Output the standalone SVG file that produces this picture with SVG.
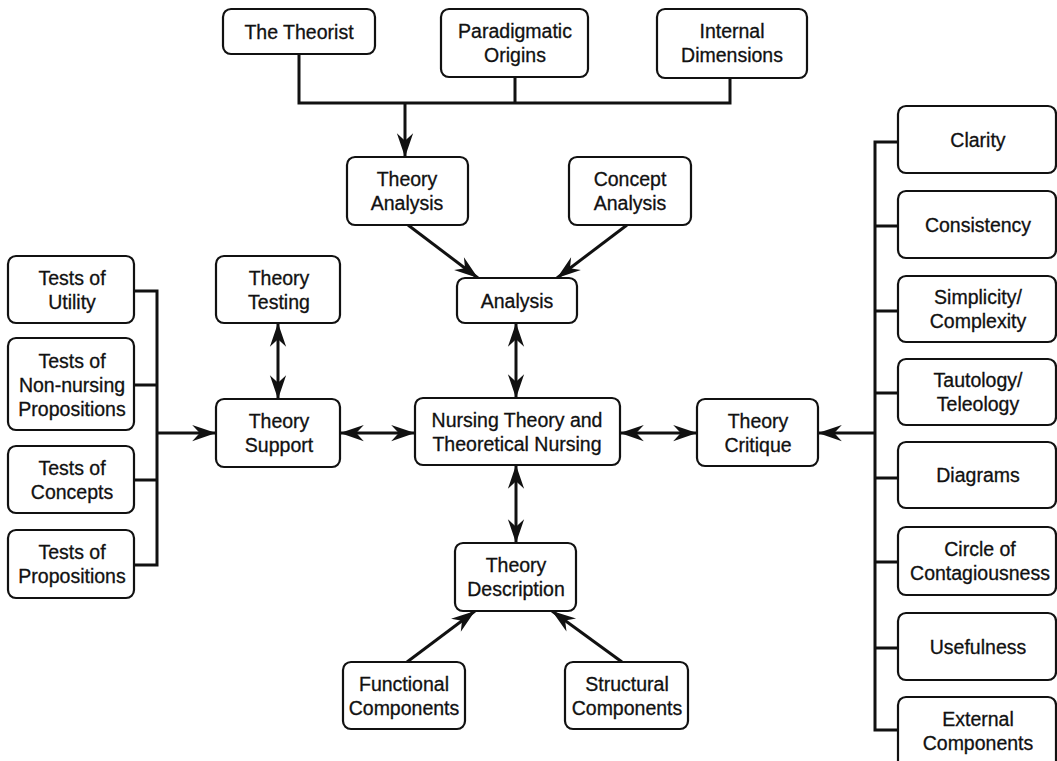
<svg xmlns="http://www.w3.org/2000/svg" width="1057" height="761" viewBox="0 0 1057 761">
<style>
.box{fill:#fff;stroke:#111;stroke-width:2.2}
text{font-family:"Liberation Sans",Arial,sans-serif;font-size:19.5px;fill:#111;stroke:#111;stroke-width:0.3;text-anchor:middle}
.ln{fill:none;stroke:#111;stroke-width:3;stroke-linejoin:miter}
</style>
<defs>
<marker id="ah" markerUnits="userSpaceOnUse" markerWidth="26" markerHeight="18" viewBox="-23 -8 24 16" refX="0" refY="0" orient="auto-start-reverse">
<path d="M0,0 L-22,-7.5 L-15,0 L-22,7.5 Z" fill="#111"/>
</marker>
</defs>
<rect width="1057" height="761" fill="#fff"/>
<g id="connectors">
<path class="ln" d="M299,54 V103 H730 V78 M515,77 V103"/>
<path class="ln" d="M405,103 V157" marker-end="url(#ah)"/>
<path class="ln" d="M408,225 L478,278" marker-end="url(#ah)"/>
<path class="ln" d="M627,225 L557,278" marker-end="url(#ah)"/>
<path class="ln" d="M516,323 V398" marker-start="url(#ah)" marker-end="url(#ah)"/>
<path class="ln" d="M278,323 V399" marker-start="url(#ah)" marker-end="url(#ah)"/>
<path class="ln" d="M340,433 H415" marker-start="url(#ah)" marker-end="url(#ah)"/>
<path class="ln" d="M620,433 H697" marker-start="url(#ah)" marker-end="url(#ah)"/>
<path class="ln" d="M516,465 V543" marker-start="url(#ah)" marker-end="url(#ah)"/>
<path class="ln" d="M407,662 L475,611" marker-end="url(#ah)"/>
<path class="ln" d="M622,662 L552,611" marker-end="url(#ah)"/>
<path class="ln" d="M134,291 H157 V565 H134 M134,385 H157 M134,480 H157"/>
<path class="ln" d="M157,433 H216" marker-end="url(#ah)"/>
<path class="ln" d="M898,142 H875 V730 H898 M875,226 H898 M875,311 H898 M875,393 H898 M875,478 H898 M875,562 H898 M875,648 H898"/>
<path class="ln" d="M875,433 H818" marker-end="url(#ah)"/>
</g>
<g id="theorist"><rect class="box" x="223" y="9" width="152" height="45" rx="8"/><text x="299" y="39">The Theorist</text></g>
<g id="paradigmatic"><rect class="box" x="441" y="9" width="147" height="68" rx="8"/><text x="515" y="38">Paradigmatic</text><text x="515" y="62">Origins</text></g>
<g id="internal"><rect class="box" x="657" y="9" width="150" height="69" rx="8"/><text x="732" y="38">Internal</text><text x="732" y="62">Dimensions</text></g>
<g id="theory-analysis"><rect class="box" x="347" y="157" width="121" height="68" rx="8"/><text x="407" y="186">Theory</text><text x="407" y="210">Analysis</text></g>
<g id="concept-analysis"><rect class="box" x="569" y="157" width="122" height="68" rx="8"/><text x="630" y="186">Concept</text><text x="630" y="210">Analysis</text></g>
<g id="analysis"><rect class="box" x="457" y="278" width="120" height="45" rx="8"/><text x="517" y="308">Analysis</text></g>
<g id="nursing"><rect class="box" x="415" y="398" width="205" height="67" rx="8"/><text x="517" y="427">Nursing Theory and</text><text x="517" y="451">Theoretical Nursing</text></g>
<g id="theory-testing"><rect class="box" x="216" y="256" width="124" height="67" rx="8"/><text x="279" y="285">Theory</text><text x="279" y="309">Testing</text></g>
<g id="theory-support"><rect class="box" x="216" y="399" width="124" height="68" rx="8"/><text x="279" y="428">Theory</text><text x="279" y="452">Support</text></g>
<g id="theory-critique"><rect class="box" x="697" y="399" width="121" height="67" rx="8"/><text x="758" y="428">Theory</text><text x="758" y="452">Critique</text></g>
<g id="theory-description"><rect class="box" x="455" y="543" width="121" height="68" rx="8"/><text x="516" y="572">Theory</text><text x="516" y="596">Description</text></g>
<g id="functional"><rect class="box" x="343" y="662" width="122" height="67" rx="8"/><text x="404" y="691">Functional</text><text x="404" y="715">Components</text></g>
<g id="structural"><rect class="box" x="565" y="662" width="123" height="67" rx="8"/><text x="627" y="691">Structural</text><text x="627" y="715">Components</text></g>
<g id="tests-utility"><rect class="box" x="8" y="256" width="126" height="67" rx="8"/><text x="72" y="285">Tests of</text><text x="72" y="309">Utility</text></g>
<g id="tests-nonnursing"><rect class="box" x="8" y="338" width="126" height="92" rx="8"/><text x="72" y="368">Tests of</text><text x="72" y="392">Non-nursing</text><text x="72" y="416">Propositions</text></g>
<g id="tests-concepts"><rect class="box" x="8" y="446" width="126" height="67" rx="8"/><text x="72" y="475">Tests of</text><text x="72" y="499">Concepts</text></g>
<g id="tests-propositions"><rect class="box" x="8" y="530" width="126" height="68" rx="8"/><text x="72" y="559">Tests of</text><text x="72" y="583">Propositions</text></g>
<g id="clarity"><rect class="box" x="898" y="106" width="158" height="67" rx="8"/><text x="978" y="147">Clarity</text></g>
<g id="consistency"><rect class="box" x="898" y="191" width="158" height="67" rx="8"/><text x="978" y="232">Consistency</text></g>
<g id="simplicity"><rect class="box" x="898" y="276" width="158" height="66" rx="8"/><text x="978" y="304">Simplicity/</text><text x="978" y="328">Complexity</text></g>
<g id="tautology"><rect class="box" x="898" y="359" width="158" height="66" rx="8"/><text x="978" y="387">Tautology/</text><text x="978" y="411">Teleology</text></g>
<g id="diagrams"><rect class="box" x="898" y="442" width="158" height="66" rx="8"/><text x="978" y="482">Diagrams</text></g>
<g id="circle"><rect class="box" x="898" y="527" width="158" height="68" rx="8"/><text x="980" y="556">Circle of</text><text x="980" y="580">Contagiousness</text></g>
<g id="usefulness"><rect class="box" x="898" y="613" width="158" height="67" rx="8"/><text x="978" y="654">Usefulness</text></g>
<g id="external"><rect class="box" x="898" y="697" width="158" height="72" rx="8"/><text x="978" y="726">External</text><text x="978" y="750">Components</text></g>
</svg>
